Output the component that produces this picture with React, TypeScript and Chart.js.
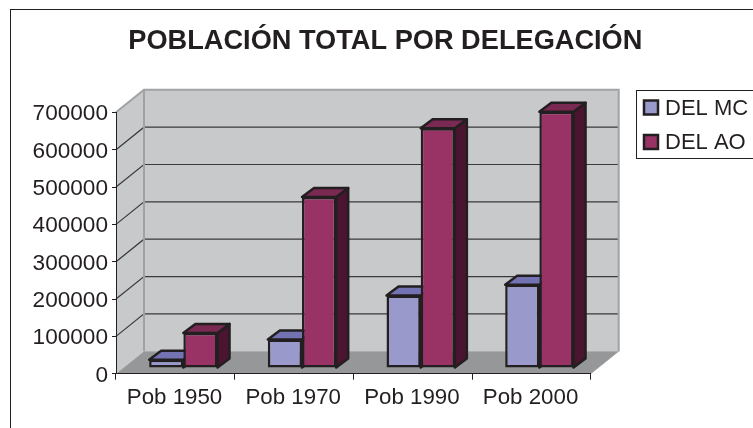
import React, { useEffect, useRef } from "react";
import { Chart, registerables } from "chart.js";

Chart.register(...registerables);

const categories = ["Pob 1950", "Pob 1970", "Pob 1990", "Pob 2000"];
const delMc = [22000, 76000, 194000, 223000];
const delAo = [94000, 458000, 642000, 686000];
const seriesNames = ["DEL MC", "DEL AO"];
const chartTitle = "POBLACIÓN TOTAL POR DELEGACIÓN";

const FONT = "'Liberation Sans', Arial, sans-serif";
const INK = "#231f20";
const front = ["#9999cc", "#993366"];
const topFace = ["#7373b3", "#7a2952"];
const sideFace = ["#4d4d80", "#4b1430"];

// perspective offsets
const WALL_DX = 28;
const WALL_DY = 22.5;
const BAR_SHIFT_X = 8;
const BAR_SHIFT_Y = 5.7;
const BAR_DX = 12;
const BAR_DY = 9;
const BAR_LINE = 2.5;

function poly(ctx: CanvasRenderingContext2D, pts: number[][], fill: string | null, stroke?: string, lw?: number) {
  ctx.beginPath();
  pts.forEach((p, i) => (i ? ctx.lineTo(p[0], p[1]) : ctx.moveTo(p[0], p[1])));
  ctx.closePath();
  if (fill) {
    ctx.fillStyle = fill;
    ctx.fill();
  }
  if (stroke) {
    ctx.strokeStyle = stroke;
    ctx.lineWidth = lw || 1;
    ctx.lineJoin = "round";
    ctx.stroke();
  }
}

const scene3d = {
  id: "scene3d",
  afterLayout(chart: any) {
    const t = chart.titleBlock;
    if (t) {
      t.left += 90;
      t.right += 90;
    }
  },
  beforeDraw(chart: any) {
    const ctx: CanvasRenderingContext2D = chart.ctx;
    const { left, right, top, bottom } = chart.chartArea;
    // nudge the axis labels to the reference's optical position
    chart.scales.y.getLabelItems(chart.chartArea).forEach((it: any) => {
      if (!it._nudged) {
        it.options.translation[1] += 1.7;
        it._nudged = true;
      }
    });
    chart.scales.x.getLabelItems(chart.chartArea).forEach((it: any) => {
      if (!it._nudged) {
        it.options.translation[0] -= 0.8;
        it._nudged = true;
      }
    });
    ctx.save();
    // outer frame (runs off the photographed area right and below)
    ctx.strokeStyle = INK;
    ctx.lineWidth = 1;
    ctx.strokeRect(10.5, 9.5, 900, 600);
    // walls
    const d = (x: number, y: number) => [x + WALL_DX, y - WALL_DY];
    poly(ctx, [[left, top], d(left, top), d(left, bottom), [left, bottom]], "#c8c9cb");
    poly(ctx, [d(left, top), d(right, top), d(right, bottom), d(left, bottom)], "#c8c9cb");
    poly(ctx, [[left, bottom], d(left, bottom), d(right, bottom), [right, bottom]], "#959799");
    // gridlines from the value scale
    const y = chart.scales.y;
    y.ticks.forEach((tk: any, i: number) => {
      if (tk.value === 0 || tk.value === y.max) return;
      const py = y.getPixelForTick(i);
      ctx.beginPath();
      ctx.moveTo(left, py);
      ctx.lineTo(...(d(left, py) as [number, number]));
      ctx.lineTo(...(d(right, py) as [number, number]));
      ctx.strokeStyle = "#3a3a3c";
      ctx.lineWidth = 1.2;
      ctx.stroke();
    });
    // wall outline
    ctx.strokeStyle = "#a0a2a4";
    ctx.lineWidth = 2;
    ctx.beginPath();
    ctx.moveTo(left, top);
    ctx.lineTo(...(d(left, top) as [number, number]));
    ctx.lineTo(...(d(right, top) as [number, number]));
    ctx.lineTo(...(d(right, bottom) as [number, number]));
    ctx.moveTo(...(d(left, top) as [number, number]));
    ctx.lineTo(...(d(left, bottom) as [number, number]));
    ctx.stroke();
    ctx.lineWidth = 1;
    ctx.beginPath();
    ctx.moveTo(right, bottom);
    ctx.lineTo(...(d(right, bottom) as [number, number]));
    ctx.strokeStyle = "#a0a2a4";
    ctx.stroke();
    ctx.restore();
  },
  beforeDatasetsDraw(chart: any) {
    const ctx: CanvasRenderingContext2D = chart.ctx;
    ctx.save();
    ctx.translate(BAR_SHIFT_X, -BAR_SHIFT_Y);
    [0, 1].forEach((di) => {
      chart.getDatasetMeta(di).data.forEach((el: any) => {
        const { x, y, base, width } = el.getProps(["x", "y", "base", "width"], true);
        const l = x - width / 2;
        const r = x + width / 2;
        poly(ctx, [[r, y], [r + BAR_DX, y - BAR_DY], [r + BAR_DX, base - BAR_DY], [r, base]], sideFace[di], INK, BAR_LINE);
        poly(ctx, [[l, y], [l + BAR_DX, y - BAR_DY], [r + BAR_DX, y - BAR_DY], [r, y]], topFace[di], INK, BAR_LINE);
      });
    });
  },
  afterDatasetsDraw(chart: any) {
    chart.ctx.restore();
  },
  afterDraw(chart: any) {
    const ctx: CanvasRenderingContext2D = chart.ctx;
    ctx.save();
    ctx.strokeStyle = INK;
    ctx.lineWidth = 1;
    ctx.strokeRect(636.5, 90.5, 300, 68);
    ctx.font = `22px ${FONT}`;
    ctx.textBaseline = "middle";
    ctx.textAlign = "left";
    chart.data.datasets.forEach((ds: any, i: number) => {
      const cy = 107.5 + i * 34.5;
      ctx.fillStyle = ds.backgroundColor;
      ctx.strokeStyle = INK;
      ctx.lineWidth = 2.5;
      ctx.fillRect(644, cy - 7, 14, 14);
      ctx.strokeRect(644, cy - 7, 14, 14);
      ctx.fillStyle = INK;
      ctx.fillText(ds.label, 665, cy + 1);
    });
    ctx.restore();
  },
};

export default function App() {
  const ref = useRef<HTMLCanvasElement>(null);
  useEffect(() => {
    const chart = new Chart(ref.current as HTMLCanvasElement, {
      type: "bar",
      plugins: [scene3d],
      data: {
        labels: categories,
        datasets: [
          { label: seriesNames[0], data: delMc, backgroundColor: front[0], borderColor: INK, borderWidth: BAR_LINE, borderSkipped: false },
          { label: seriesNames[1], data: delAo, backgroundColor: front[1], borderColor: INK, borderWidth: BAR_LINE, borderSkipped: false },
        ],
      },
      options: {
        animation: false,
        responsive: false,
        layout: { padding: { left: 0, top: 0, bottom: 0, right: 162.3 } },
        datasets: { bar: { categoryPercentage: 0.576, barPercentage: 1 } },
        plugins: {
          legend: { display: false },
          tooltip: { enabled: false },
          title: {
            display: true,
            text: chartTitle,
            color: INK,
            font: { family: FONT, size: 27.2, weight: "bold", lineHeight: 1.2 },
            padding: { top: 25, bottom: 54.7 },
          },
        },
        scales: {
          x: {
            afterFit: (s: any) => { s.height = 54.3; },
            grid: { drawOnChartArea: false, drawTicks: true, tickLength: 6, color: INK, offset: true },
            border: { color: INK, width: 1 },
            ticks: { color: INK, font: { family: FONT, size: 22.3 }, padding: 5, maxRotation: 0 },
          },
          y: {
            min: 0,
            max: 700000,
            afterFit: (s: any) => { s.width = 116; },
            grid: { drawOnChartArea: false, drawTicks: true, tickLength: 4, color: INK },
            border: { color: INK, width: 1 },
            ticks: { stepSize: 100000, color: INK, font: { family: FONT, size: 22.6 }, padding: 4, callback: (v: any) => String(v) },
          },
        },
      } as any,
    });
    return () => chart.destroy();
  }, []);
  return (
    <div style={{ position: "fixed", left: 0, top: 0, width: 753, height: 428, background: "#fff" }}>
      <canvas ref={ref} width={753} height={428} style={{ display: "block" }} />
    </div>
  );
}
